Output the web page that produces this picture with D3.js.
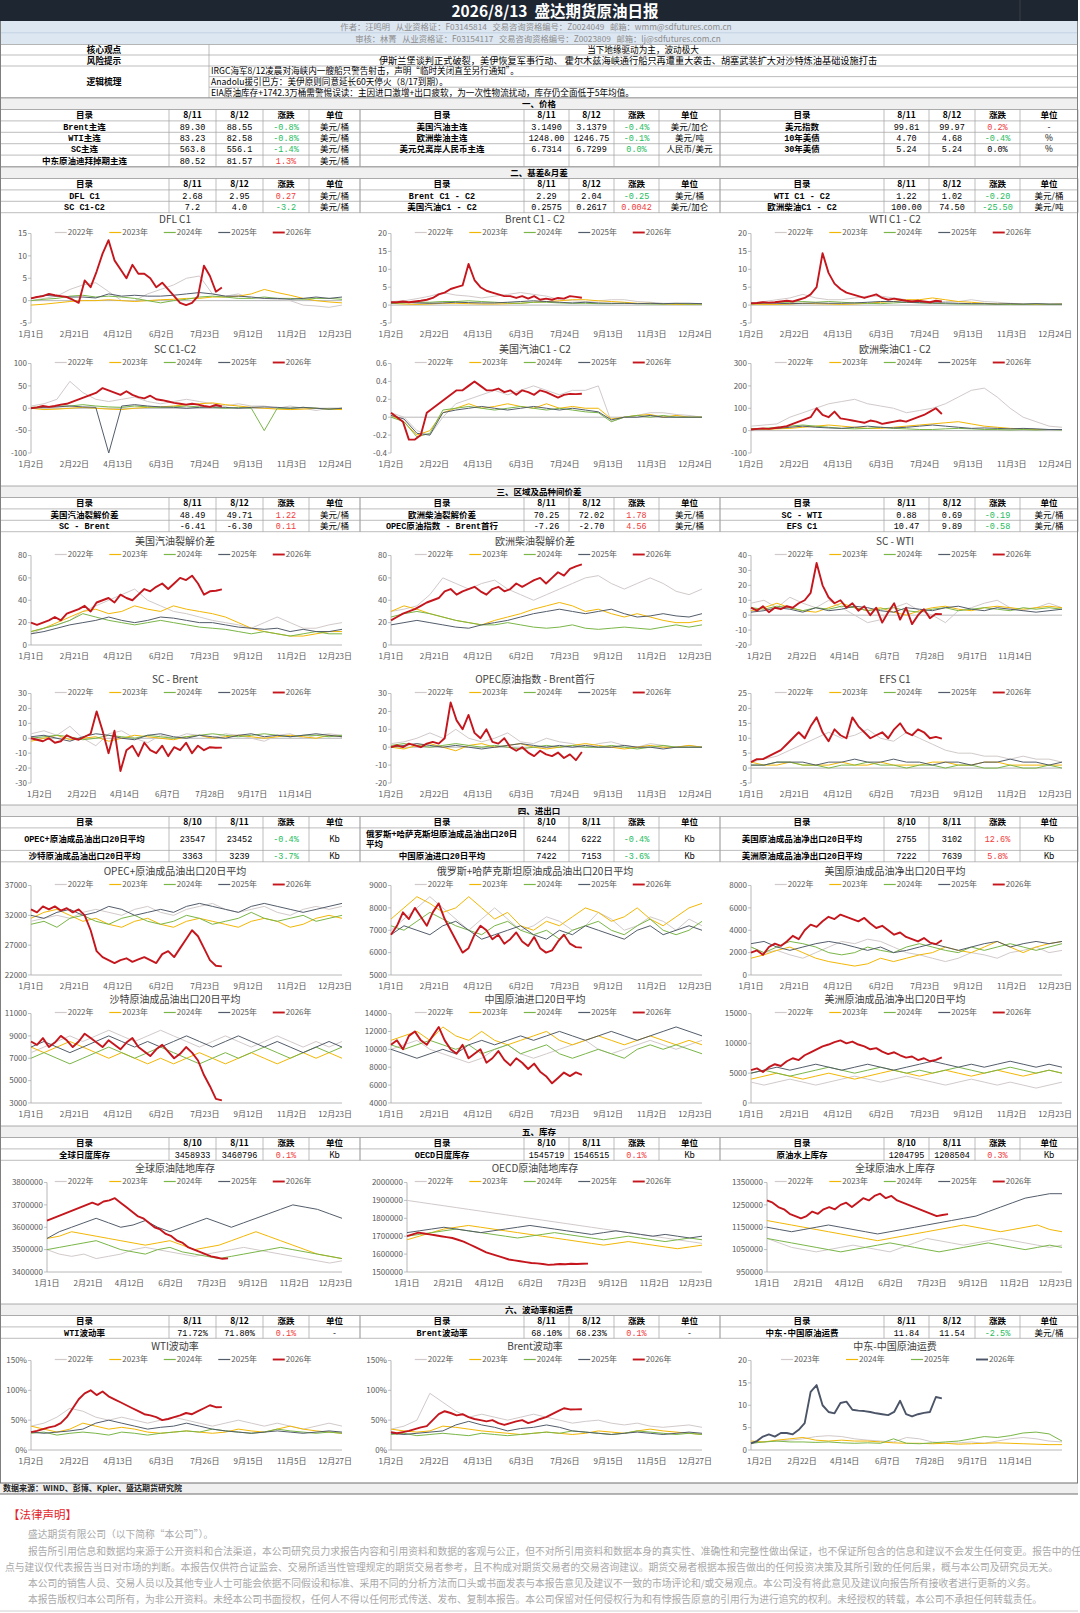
<!DOCTYPE html>
<html>
<head>
<meta charset="utf-8">
<script src="https://d3js.org/d3.v7.min.js"></script>
<style>
body { margin: 0; background: #fff; }
svg { display: block; }
</style>
</head>
<body>
<svg id="page" width="1080" height="1613"></svg>
<script>
// ---- legend names / axis labels ----
const years5 = ["2022年", "2023年", "2024年", "2025年", "2026年"];
const years4 = ["2023年", "2024年", "2025年", "2026年"];
const xDays1 = ["1月1日", "2月21日", "4月12日", "6月2日", "7月23日", "9月12日", "11月2日", "12月23日"];
const xDays2 = ["1月2日", "2月22日", "4月13日", "6月3日", "7月24日", "9月13日", "11月3日", "12月24日"];
const xTrade = ["1月2日", "2月22日", "4月14日", "6月7日", "7月28日", "9月17日", "11月14日"];
const xVol = ["1月2日", "2月22日", "4月13日", "6月3日", "7月26日", "9月15日", "11月5日", "12月27日"];

// ---- table rows: name, prev, last, change, unit ----
const priceL = [["Brent主连", "89.30", "88.55", "-0.8%", "美元/桶"], ["WTI主连", "83.23", "82.58", "-0.8%", "美元/桶"], ["SC主连", "563.8", "556.1", "-1.4%", "美元/桶"], ["中东原油迪拜掉期主连", "80.52", "81.57", "1.3%", "美元/桶"]];
const priceM = [["美国汽油主连", "3.1490", "3.1379", "-0.4%", "美元/加仑"], ["欧洲柴油主连", "1248.00", "1246.75", "-0.1%", "美元/吨"], ["美元兑离岸人民币主连", "6.7314", "6.7299", "0.0%", "人民币/美元"], ["", "", "", "", ""]];
const priceR = [["美元指数", "99.81", "99.97", "0.2%", "-"], ["10年美债", "4.70", "4.68", "-0.4%", "%"], ["30年美债", "5.24", "5.24", "0.0%", "%"], ["", "", "", "", ""]];
const spreadL = [["DFL C1", "2.68", "2.95", "0.27", "美元/桶"], ["SC C1-C2", "7.2", "4.0", "-3.2", "美元/桶"]];
const spreadM = [["Brent C1 - C2", "2.29", "2.04", "-0.25", "美元/桶"], ["美国汽油C1 - C2", "0.2575", "0.2617", "0.0042", "美元/加仑"]];
const spreadR = [["WTI C1 - C2", "1.22", "1.02", "-0.20", "美元/桶"], ["欧洲柴油C1 - C2", "100.00", "74.50", "-25.50", "美元/吨"]];
const crackL = [["美国汽油裂解价差", "48.49", "49.71", "1.22", "美元/桶"], ["SC - Brent", "-6.41", "-6.30", "0.11", "美元/桶"]];
const crackM = [["欧洲柴油裂解价差", "70.25", "72.02", "1.78", "美元/桶"], ["OPEC原油指数 - Brent首行", "-7.26", "-2.70", "4.56", "美元/桶"]];
const crackR = [["SC - WTI", "0.88", "0.69", "-0.19", "美元/桶"], ["EFS C1", "10.47", "9.89", "-0.58", "美元/桶"]];
const tradeL = [["OPEC+原油成品油出口20日平均", "23547", "23452", "-0.4%", "Kb"], ["沙特原油成品油出口20日平均", "3363", "3239", "-3.7%", "Kb"]];
const tradeM = [["俄罗斯+哈萨克斯坦原油成品油出口20日平均", "6244", "6222", "-0.4%", "Kb"], ["中国原油进口20日平均", "7422", "7153", "-3.6%", "Kb"]];
const tradeR = [["美国原油成品油净出口20日平均", "2755", "3102", "12.6%", "Kb"], ["美洲原油成品油净出口20日平均", "7222", "7639", "5.8%", "Kb"]];
const stockL = [["全球日度库存", "3458933", "3460796", "0.1%", "Kb"]];
const stockM = [["OECD日度库存", "1545719", "1546515", "0.1%", "Kb"]];
const stockR = [["原油水上库存", "1204795", "1208504", "0.3%", "Kb"]];
const volL = [["WTI波动率", "71.72%", "71.80%", "0.1%", "-"]];
const volM = [["Brent波动率", "68.10%", "68.23%", "0.1%", "-"]];
const volR = [["中东-中国原油运费", "11.84", "11.54", "-2.5%", "美元/桶"]];

// ---- chart series: older years every ~15 days over the year, 2026 weekly up to mid Aug ----
const dflC1 = [
  [0, 0.5, 1, 2.5, 3.5, 4, 2, 0, 0, 1.5, 2.5, 3.5, 5, 5.5, 1.5, 1, 1.5, 0.5, 0.5, 0.3, 0, -1, -1.2, -1.5, -1],
  [-1, -0.8, -0.5, -0.2, 0, 0, 0.2, 0, -0.2, 0, 0.2, 0.3, 0.5, 0.5, 0.8, 0.8, 1.0, 1.5, 2.5, 1.8, 1.2, 0.5, 0, -0.3, -0.5],
  [0, 0.3, 0.5, 1.0, 1.2, 0.8, 1.0, 0.8, 0.5, 0, -0.5, 0, 0.3, 0.8, 1.0, 0.8, 0.5, 0.5, 0.8, 0.5, 0.5, 0.3, 0.5, 0.5, 0.3],
  [0.5, 1.2, 1.0, 0.8, 0.8, 0.6, 1.5, 1.0, 1.2, 1.0, 1.0, 1.2, 1.5, 1.8, 1.5, 1.0, 1.0, 0.8, 0.5, 0.5, 0.3, 0.5, 0.8, 0.5, 0.8],
  [0.5, 0.8, 1.0, 1.5, 1.2, 1.0, 0.8, 0.2, -0.5, 4.5, 3.0, 6.5, 10.5, 13.5, 9.0, 7.0, 5.0, 8.0, 6.0, 6.0, 5.0, 3.0, 4.0, 2.5, 1.0, -0.5, -1.0, -0.5, 1.0, 7.8, 5.5, 2.0, 2.95]
];
const brentC1C2 = [
  [1, 1.2, 1.8, 2.5, 3.5, 2.8, 2.5, 2.0, 2.5, 3.0, 3.5, 3.0, 2.5, 1.5, 1.2, 1.0, 1.2, 1.5, 1.5, 1.0, 0.8, 0.5, 0.5, 0.3, 0.3],
  [0.5, 0.3, 0.2, 0.3, 0.5, 0.5, 0.4, 0.3, 0.3, 0.4, 0.5, 0.8, 1.0, 1.2, 1.5, 1.5, 1.2, 1.0, 0.8, 0.5, 0.5, 0.3, 0.2, 0.2, 0.3],
  [0.5, 0.6, 0.8, 0.8, 1.0, 1.0, 1.2, 1.0, 0.8, 0.6, 0.5, 0.8, 0.8, 0.6, 0.5, 0.5, 0.4, 0.4, 0.5, 0.4, 0.3, 0.3, 0.4, 0.3, 0.3],
  [0.6, 0.8, 0.6, 0.5, 0.6, 0.8, 0.7, 0.6, 0.6, 0.8, 1.0, 1.2, 1.0, 0.8, 0.6, 0.8, 0.6, 0.5, 0.5, 0.4, 0.5, 0.4, 0.5, 0.5, 0.4],
  [0.8, 0.8, 1.0, 0.8, 1.0, 1.2, 1.5, 2.0, 3.0, 3.5, 4.5, 5.0, 5.5, 11.5, 7.0, 5.0, 4.0, 3.5, 3.0, 2.5, 2.5, 2.0, 2.5, 1.8, 2.5, 1.5, 1.8, 1.5, 2.0, 1.8, 2.5, 2.29, 2.04]
];
const wtiC1C2 = [
  [0.5, 1.0, 1.5, 2.0, 3.0, 2.0, 1.5, 1.5, 2.0, 2.5, 2.5, 2.0, 1.5, 1.0, 0.8, 1.0, 1.0, 1.5, 1.0, 0.8, 0.5, 0.3, 0.3, 0.2, 0.2],
  [0.3, 0.2, 0.2, 0.3, 0.5, 0.4, 0.3, 0.2, 0.3, 0.5, 0.8, 1.0, 1.5, 1.5, 2.0, 1.5, 1.0, 0.8, 0.5, 0.3, 0.3, 0.2, 0.2, 0.2, 0.3],
  [0.3, 0.5, 0.8, 0.8, 1.0, 0.8, 1.0, 0.8, 0.6, 0.5, 0.4, 0.6, 0.8, 0.6, 0.5, 0.4, 0.3, 0.3, 0.3, 0.2, 0.2, 0.2, 0.3, 0.2, 0.2],
  [0.5, 0.6, 0.5, 0.4, 0.5, 0.6, 0.5, 0.5, 0.6, 0.8, 1.0, 1.0, 0.8, 0.7, 0.6, 0.6, 0.5, 0.4, 0.4, 0.3, 0.4, 0.3, 0.4, 0.3, 0.3],
  [0.5, 0.6, 0.8, 0.7, 0.8, 1.0, 1.2, 1.0, 1.5, 2.0, 3.0, 5.0, 14.5, 9.0, 6.0, 4.5, 3.5, 3.0, 2.5, 2.0, 2.5, 3.0, 2.0, 1.5, 1.8, 1.5, 1.2, 1.0, 1.2, 1.0, 0.8, 1.22, 1.02]
];
const scC1C2 = [
  [5, 10, 20, 60, 35, 20, 15, 20, 25, 15, 10, 15, 20, 15, 10, 5, 10, 5, 5, 0, 5, 0, -5, 0, 0],
  [0, -3, -2, 0, 2, 0, -2, -3, 0, 2, 3, 5, 8, 10, 12, 8, 5, 2, 0, -2, -3, -2, 0, -2, -3],
  [2, 3, 5, 5, 8, 5, 3, 2, 5, 3, 2, 3, 5, 3, 2, 0, 2, 0, -50, 0, 0, 2, 0, -2, 0],
  [0, 2, 3, 5, 3, 2, -100, 5, 8, 5, 3, 2, 0, 2, 3, 2, 0, 2, 3, 2, 0, 2, 0, -2, 0],
  [0, 2, 5, 3, 5, 8, 10, 15, 20, 25, 30, 35, 45, 40, 35, 30, 38, 30, 25, 22, 28, 20, 18, 15, 12, 10, 8, 10, 8, 5, 3, 7.2, 4.0]
];
const rbobC1C2 = [
  [0.05, 0.0, -0.15, -0.2, 0.0, 0.15, 0.2, 0.25, 0.3, 0.25, 0.3, 0.35, 0.3, 0.25, 0.3, 0.3, 0.35, -0.05, 0.0, 0.02, 0.05, 0.05, 0.03, 0.02, 0.0],
  [0.02, -0.05, -0.2, -0.15, 0.05, 0.1, 0.15, 0.1, 0.12, 0.15, 0.12, 0.1, 0.15, 0.1, 0.12, 0.1, 0.1, -0.02, 0.0, 0.02, 0.03, 0.0, 0.02, 0.0, 0.0],
  [0.0, -0.05, -0.22, -0.18, 0.08, 0.1, 0.12, 0.1, 0.08, 0.1, 0.12, 0.1, 0.08, 0.1, 0.08, 0.06, 0.05, -0.05, 0.0, 0.02, 0.0, 0.02, 0.0, 0.0, 0.0],
  [0.02, -0.02, -0.18, -0.2, 0.05, 0.08, 0.1, 0.12, 0.1, 0.08, 0.1, 0.12, 0.1, 0.08, 0.1, 0.08, 0.06, -0.03, 0.0, 0.0, 0.02, 0.0, 0.0, 0.0, 0.0],
  [0.05, 0.0, -0.05, -0.25, -0.25, -0.2, 0.05, 0.1, 0.15, 0.2, 0.25, 0.3, 0.3, 0.35, 0.4, 0.35, 0.3, 0.3, 0.32, 0.28, 0.3, 0.25, 0.3, 0.28, 0.25, 0.3, 0.28, 0.25, 0.22, 0.25, 0.26, 0.2575, 0.2617]
];
const gasoilC1C2 = [
  [20, 25, 30, 60, 80, 100, 120, 130, 140, 120, 110, 100, 80, 90, 100, 120, 150, 180, 190, 150, 100, 60, 40, 20, 15],
  [10, 5, 8, 10, 15, 20, 25, 20, 15, 10, 10, 15, 20, 25, 30, 35, 40, 30, 20, 15, 10, 8, 5, 5, 5],
  [8, 10, 15, 20, 25, 20, 15, 10, 8, 10, 15, 10, 8, 5, 5, 8, 10, 8, 5, 5, 3, 5, 3, 5, 3],
  [5, 8, 10, 15, 20, 15, 12, 10, 15, 20, 15, 12, 15, 20, 25, 20, 15, 10, 12, 10, 8, 10, 8, 5, 5],
  [5, 8, 10, 8, 12, 15, 20, 30, 40, 50, 60, 100, 70, 60, 85, 55, 50, 45, 40, 35, 45, 40, 30, 35, 40, 45, 40, 50, 60, 70, 85, 100, 74.5]
];
const rbobCrack = [
  [10, 15, 18, 22, 30, 35, 40, 45, 50, 40, 35, 30, 28, 25, 22, 20, 18, 15, 20, 25, 20, 15, 15, 18, 20],
  [12, 15, 20, 25, 30, 32, 28, 30, 35, 32, 30, 35, 32, 30, 28, 25, 20, 15, 12, 10, 8, 8, 10, 12, 12],
  [12, 15, 18, 22, 28, 25, 22, 20, 18, 20, 22, 20, 18, 16, 15, 14, 12, 10, 12, 10, 8, 10, 12, 10, 10],
  [10, 12, 15, 18, 20, 22, 25, 22, 20, 22, 25, 24, 22, 20, 20, 18, 16, 15, 14, 15, 12, 14, 12, 12, 14],
  [20, 18, 20, 22, 25, 22, 28, 30, 32, 35, 30, 38, 40, 42, 38, 45, 42, 40, 45, 50, 48, 52, 55, 50, 55, 60, 58, 62, 55, 45, 48, 48.49, 49.71]
];
const gasoilCrack = [
  [30, 32, 35, 45, 60, 55, 50, 55, 58, 50, 45, 40, 45, 50, 55, 60, 62, 55, 50, 55, 60, 55, 48, 45, 50],
  [30, 35, 32, 28, 25, 22, 20, 18, 22, 25, 28, 32, 35, 38, 35, 30, 32, 28, 25, 28, 25, 22, 20, 20, 22],
  [25, 28, 30, 28, 25, 22, 20, 18, 18, 20, 18, 16, 15, 16, 18, 15, 14, 15, 16, 15, 14, 16, 18, 16, 18],
  [18, 20, 22, 20, 18, 16, 15, 18, 20, 22, 25, 28, 30, 32, 30, 28, 30, 32, 28, 25, 26, 28, 26, 25, 28],
  [22, 25, 28, 30, 32, 35, 38, 40, 42, 48, 50, 45, 48, 50, 52, 48, 45, 50, 52, 48, 50, 55, 52, 55, 58, 60, 55, 60, 65, 62, 68, 70.25, 72.02]
];
const scWti = [
  [8, 10, 5, 12, 8, 5, 10, 5, 0, -5, -3, 5, 8, 3, 0, -5, 3, 5, 8, 10, 5, 3, 5, 8, 5],
  [3, 5, 8, 5, 3, 2, 5, 8, 5, 3, 5, 2, 0, 3, 5, 6, 4, 3, 5, 6, 5, 4, 5, 6, 5],
  [5, 4, 6, 5, 3, 5, 4, 6, 5, 3, 4, 5, 3, 2, 4, 5, 3, 4, 5, 4, 3, 5, 4, 5, 4],
  [2, 3, 5, 4, 2, 5, 3, 4, 6, 5, 3, 2, 5, 4, 3, 5, 6, 4, 3, 5, 4, 3, 2, 3, 4],
  [5, 3, 6, 2, 5, 4, 6, 5, 8, 10, 15, 35, 20, 12, 8, 10, 5, 8, 3, 6, 0, 5, -5, 2, 8, -3, 5, -6, 0, 4, -2, 0.88, 0.69]
];
const scBrent = [
  [3, 5, 2, 8, 0, -5, 3, 5, 0, -3, 2, 0, 3, 2, 0, 3, 2, 0, -2, 2, 3, 0, 2, 3, 2],
  [-2, 0, 2, -1, 0, 1, -2, 0, 2, 1, 0, -1, 1, 2, 0, 1, 2, 1, 0, 1, 2, 1, 0, 2, 1],
  [0, 1, 2, 1, -1, 0, 2, 1, 0, 2, 1, 0, 1, 2, 3, 2, 1, 2, 3, 2, 1, 2, 2, 1, 2],
  [1, 2, 0, -2, 1, 3, 2, 0, -1, 2, 3, 1, 0, 2, 1, 0, 2, 3, 1, 2, 1, 2, 3, 2, 1],
  [0, -1, -2, 0, -3, -2, 2, 0, -1, 1, 3, 18, 5, -10, 5, -22, -8, -5, -12, -3, -8, -10, -5, -12, -6, -8, -3, -10, -5, -8, -6, -6.41, -6.30]
];
const opecBrent = [
  [2, 3, 5, 8, 5, 10, 5, 3, 5, 8, 3, 2, 5, 3, 2, 0, 2, 3, 1, 0, 2, 1, 0, 1, 0],
  [0, -1, 1, 2, 0, -2, 1, 2, 0, 1, 2, 0, -1, 0, 1, 2, 1, 0, -1, 0, 1, 0, 0, 1, 0],
  [1, 2, 1, 0, 1, 2, 1, 0, 1, 0, -1, 0, 1, 0, 1, 0, 0, 1, 0, -1, 0, 1, 0, 0, 0],
  [0, 1, 2, 1, 0, 1, 0, -1, 0, 1, 2, 1, 0, 1, 0, 1, 0, 0, 1, 0, 0, -1, 0, 0, 0],
  [0, 1, 0, 2, 1, 0, 2, 3, 2, 5, 25, 15, 10, 18, 8, 5, 10, 3, 2, 5, 0, -2, 0, -3, -5, -2, -4, -5, -3, -6, -4, -7.26, -2.70]
];
const efsC1 = [
  [2, 3, 4, 6, 8, 10, 12, 10, 11, 13, 10, 9, 12, 10, 8, 6, 5, 5, 4, 4, 3, 4, 3, 3, 2],
  [2, 1, 1, 2, 1, 1, 1, 2, 1, 1, 2, 1, 1, 1, 2, 2, 1, 1, 2, 2, 1, 1, 1, 1, 1],
  [1, 1, 2, 2, 1, 1, 0, 1, 1, 2, 1, 1, 0, 1, 1, 0, 1, 1, 0, 0, 1, 0, 0, 1, 0],
  [1, 1, 2, 2, 2, 1, 2, 2, 3, 2, 2, 3, 2, 2, 1, 2, 2, 1, 2, 2, 3, 2, 2, 1, 2],
  [2, 3, 3, 4, 5, 6, 8, 10, 12, 10, 14, 17, 12, 9, 13, 11, 10, 17, 14, 12, 10, 11, 12, 10, 13, 15, 12, 11, 13, 12, 10, 10.47, 9.89]
];
const opecExp = [
  [31000, 31500, 32000, 31500, 32500, 33000, 32500, 32000, 33000, 33500, 32500, 32000, 33000, 33500, 34000, 33000, 32500, 33000, 33500, 32500, 32000, 33000, 33500, 33000, 33500],
  [31500, 32500, 33000, 32000, 31000, 31500, 30500, 30000, 31000, 31500, 30500, 30000, 31000, 31500, 31000, 30500, 30000, 31000, 31500, 31000, 30000, 30500, 31500, 32000, 31500],
  [30500, 31000, 30000, 31500, 32000, 31000, 30500, 31500, 32000, 31000, 30500, 31000, 32000, 31500, 30500, 31000, 31500, 32500, 31500, 31000, 31500, 32000, 31000, 31500, 32000],
  [32000, 31500, 32500, 33000, 32000, 32500, 33500, 33000, 32000, 32500, 33000, 32500, 33500, 34000, 33500, 33000, 32500, 33500, 34000, 33500, 33000, 32500, 33000, 33500, 34000],
  [33000, 32500, 33500, 33000, 33500, 32800, 33200, 32500, 33000, 32000, 29500, 26000, 25000, 24500, 24000, 24500, 24800, 24200, 24600, 25000, 24500, 24000, 25500, 26000, 25000, 26500, 28000, 29500, 28500, 26500, 24500, 23547, 23452]
];
const rusExp = [
  [7000, 7500, 8000, 8500, 8000, 7500, 7000, 7500, 8000, 7500, 7000, 7200, 7600, 7400, 7000, 7200, 7800, 7500, 7000, 7200, 7600, 7400, 7000, 7500, 7200],
  [7500, 8000, 8500, 8200, 7800, 8000, 8500, 8000, 7500, 7800, 7200, 7000, 7400, 7200, 7600, 8000, 7800, 7400, 7600, 8000, 7500, 7200, 7600, 8000, 8200],
  [7200, 7000, 7400, 7800, 7500, 7200, 7000, 6800, 7200, 7400, 7000, 6800, 7000, 6600, 7000, 7200, 7400, 7000, 6800, 7200, 7500, 7000, 6800, 7000, 7400],
  [6800, 7200, 7000, 6800, 7200, 7400, 7000, 6600, 6800, 7000, 7200, 6800, 6600, 7000, 6800, 7200, 7000, 6800, 6600, 7000, 7200, 6800, 7000, 7200, 7000],
  [6800, 7200, 7800, 7500, 8000, 7600, 7200, 7800, 8200, 7500, 7000, 6500, 6000, 6200, 6800, 7200, 7000, 6600, 6800, 6400, 6600, 6900, 6500, 6300, 6700, 6200, 6000, 6100, 6500, 6800, 6400, 6244, 6222]
];
const usNetExp = [
  [2500, 2000, 2200, 1800, 1500, 2000, 2500, 3000, 2800, 3200, 3000, 2500, 2000, 1800, 1500, 1200, 1500, 2000, 1800, 1500, 2000, 2200, 2500, 2000, 2200],
  [1500, 1800, 2200, 2500, 2000, 1500, 1200, 1000, 800, 1000, 1500, 1200, 1500, 1800, 2000, 2500, 2200, 2000, 2500, 3000, 2500, 2000, 2500, 2800, 3000],
  [2500, 2000, 2500, 3000, 2800, 2500, 2000, 1800, 2000, 2500, 2200, 2000, 2500, 2800, 2500, 2200, 2000, 2500, 2200, 2500, 2800, 2500, 2200, 2500, 2800],
  [2800, 3000, 2500, 2200, 2500, 2800, 3000, 2800, 2500, 2200, 2500, 2000, 2200, 2500, 2800, 2500, 2200, 2500, 2800, 3000, 2500, 2800, 3000, 2800, 3000],
  [2000, 2200, 1800, 2500, 2800, 2600, 3000, 3500, 3200, 4000, 4500, 4300, 4800, 5200, 5000, 5400, 5200, 5000, 4800, 5100, 4600, 4200, 4400, 4000, 3600, 3800, 3400, 3200, 3000, 3300, 2900, 2755, 3102]
];
const saudiExp = [
  [7500, 8000, 8500, 9000, 8500, 9000, 9500, 9000, 8500, 9000, 9500, 9000, 8500, 8000, 8500, 9000, 8500, 8000, 8500, 9000, 8500, 8000, 8500, 8000, 8500],
  [8000, 7500, 8000, 8500, 8000, 7500, 7000, 7500, 7000, 6500, 7000, 6500, 7000, 7500, 7000, 6500, 7000, 7500, 7000, 6500, 7000, 7500, 7000, 7500, 7000],
  [7000, 7500, 7000, 6500, 7000, 7500, 8000, 7500, 7000, 7500, 8000, 7500, 7000, 6500, 7000, 7500, 7000, 7500, 8000, 7500, 7000, 7500, 8000, 7500, 8000],
  [8000, 8500, 8000, 7500, 8000, 8500, 9000, 8500, 8000, 8500, 8000, 8500, 9000, 8500, 8000, 8500, 9000, 8500, 8000, 8500, 8000, 7500, 8000, 8500, 8000],
  [8500, 8200, 8800, 8000, 8400, 9000, 8600, 8000, 8500, 9200, 8800, 8400, 8000, 8600, 8200, 7800, 8400, 8800, 8000, 7600, 7200, 7800, 8200, 7600, 7000, 7400, 8000, 7500, 6800, 5500, 4500, 3363, 3239]
];
const chinaImp = [
  [10000, 10500, 11000, 10000, 9500, 9000, 8500, 9000, 10000, 10500, 9500, 9000, 9500, 10000, 10500, 11000, 10000, 9500, 10000, 10500, 11000, 10500, 10000, 10500, 11000],
  [11000, 11500, 12000, 11000, 12500, 11500, 11000, 12000, 11000, 10500, 11000, 11500, 12000, 11000, 10500, 11000, 11500, 11000, 10500, 11000, 11500, 11000, 10500, 11000, 10500],
  [10500, 10000, 10500, 11000, 10500, 10000, 10500, 9500, 10000, 10500, 9500, 10000, 10500, 9500, 9000, 9500, 10000, 9500, 9000, 10000, 10500, 10000, 10500, 10000, 9500],
  [10000, 9500, 9000, 9500, 10000, 9500, 10500, 11000, 10500, 11000, 11500, 11000, 11500, 12000, 11500, 11000, 11500, 12000, 11500, 11000, 11500, 12000, 12500, 12000, 11500],
  [10500, 11000, 10000, 11500, 12000, 11000, 10500, 11500, 12500, 11000, 10000, 9500, 10500, 9000, 9500, 10000, 8500, 9000, 9800, 8800, 8200, 9000, 8500, 7800, 8400, 7500, 7000, 6200, 6800, 7400, 7000, 7422, 7153]
];
const amerNetExp = [
  [3500, 3000, 3500, 4000, 3500, 3000, 3500, 4000, 4500, 4000, 3500, 4000, 4500, 4000, 3500, 3000, 3500, 4000, 3500, 3000, 3500, 3000, 2500, 3000, 3500],
  [4000, 4500, 5000, 4500, 4000, 4500, 5000, 4500, 4000, 4500, 5000, 5500, 5000, 4500, 5000, 5500, 5000, 4500, 5000, 5500, 5000, 4500, 5000, 5500, 5000],
  [5000, 5500, 5000, 4500, 5000, 5500, 6000, 5500, 5000, 5500, 6000, 5500, 5000, 5500, 5000, 5500, 6000, 5500, 5000, 5500, 6000, 5500, 5000, 5500, 5000],
  [5000, 5500, 6000, 5500, 6000, 6500, 6000, 5500, 6000, 6500, 6000, 5500, 6000, 6500, 7000, 6500, 6000, 6500, 6000, 6500, 7000, 6500, 6000, 6500, 6000],
  [5500, 5800, 5200, 6000, 6500, 6200, 7000, 7500, 7200, 8000, 8500, 9000, 9500, 9800, 10200, 10500, 10000, 10300, 9800, 9500, 9000, 9200, 8600, 8200, 8500, 8000, 7600, 7800, 7200, 7500, 7000, 7222, 7639]
];
const globalOnshore = [
  [3500000, 3480000, 3470000, 3480000, 3460000, 3470000, 3480000, 3500000, 3510000, 3500000, 3490000, 3480000, 3470000, 3480000, 3490000, 3500000, 3510000, 3500000, 3490000, 3480000, 3470000, 3460000, 3450000, 3440000, 3450000],
  [3550000, 3560000, 3580000, 3570000, 3560000, 3550000, 3540000, 3530000, 3520000, 3530000, 3540000, 3520000, 3500000, 3510000, 3520000, 3540000, 3560000, 3580000, 3560000, 3540000, 3520000, 3500000, 3480000, 3470000, 3460000],
  [3500000, 3510000, 3520000, 3530000, 3540000, 3520000, 3500000, 3490000, 3480000, 3500000, 3510000, 3490000, 3480000, 3470000, 3460000, 3470000, 3480000, 3490000, 3500000, 3510000, 3500000, 3490000, 3480000, 3470000, 3460000],
  [3550000, 3580000, 3600000, 3620000, 3640000, 3620000, 3600000, 3610000, 3630000, 3600000, 3580000, 3600000, 3620000, 3640000, 3620000, 3600000, 3620000, 3640000, 3660000, 3680000, 3700000, 3690000, 3680000, 3660000, 3640000],
  [3630000, 3640000, 3650000, 3660000, 3670000, 3680000, 3690000, 3700000, 3710000, 3700000, 3715000, 3720000, 3730000, 3710000, 3690000, 3670000, 3650000, 3640000, 3620000, 3600000, 3590000, 3570000, 3560000, 3540000, 3530000, 3510000, 3500000, 3490000, 3480000, 3470000, 3465000, 3458933, 3460796]
];
const oecdOnshore = [
  [1900000, 1890000, 1880000, 1870000, 1860000, 1850000, 1840000, 1830000, 1820000, 1810000, 1800000, 1790000, 1780000, 1770000, 1760000, 1750000, 1740000, 1730000, 1720000, 1710000, 1700000, 1690000, 1680000, 1670000, 1660000],
  [1680000, 1700000, 1720000, 1740000, 1750000, 1760000, 1750000, 1740000, 1730000, 1720000, 1710000, 1700000, 1690000, 1680000, 1670000, 1660000, 1650000, 1660000, 1670000, 1660000, 1650000, 1640000, 1630000, 1640000, 1650000],
  [1700000, 1710000, 1720000, 1730000, 1740000, 1730000, 1720000, 1710000, 1700000, 1690000, 1700000, 1710000, 1720000, 1710000, 1700000, 1690000, 1680000, 1690000, 1700000, 1690000, 1680000, 1670000, 1680000, 1690000, 1680000],
  [1720000, 1730000, 1740000, 1750000, 1740000, 1730000, 1720000, 1730000, 1740000, 1750000, 1760000, 1750000, 1740000, 1730000, 1720000, 1710000, 1720000, 1730000, 1720000, 1710000, 1700000, 1710000, 1700000, 1690000, 1700000],
  [1700000, 1710000, 1720000, 1715000, 1710000, 1705000, 1700000, 1695000, 1690000, 1680000, 1670000, 1655000, 1640000, 1625000, 1610000, 1600000, 1590000, 1580000, 1570000, 1565000, 1560000, 1555000, 1550000, 1548000, 1545000, 1540000, 1542000, 1545000, 1543000, 1546000, 1545000, 1545719, 1546515]
];
const floating = [
  [1100000, 1080000, 1060000, 1050000, 1040000, 1050000, 1060000, 1070000, 1060000, 1050000, 1040000, 1060000, 1080000, 1100000, 1090000, 1080000, 1070000, 1080000, 1090000, 1100000, 1090000, 1080000, 1070000, 1060000, 1070000],
  [1180000, 1170000, 1160000, 1150000, 1140000, 1130000, 1120000, 1110000, 1100000, 1090000, 1100000, 1110000, 1120000, 1130000, 1140000, 1150000, 1160000, 1150000, 1140000, 1130000, 1140000, 1150000, 1160000, 1140000, 1130000],
  [1100000, 1090000, 1080000, 1070000, 1060000, 1050000, 1040000, 1050000, 1060000, 1070000, 1080000, 1070000, 1060000, 1050000, 1040000, 1050000, 1060000, 1070000, 1080000, 1070000, 1060000, 1050000, 1060000, 1070000, 1060000],
  [1150000, 1140000, 1130000, 1140000, 1150000, 1160000, 1150000, 1140000, 1130000, 1120000, 1130000, 1140000, 1150000, 1160000, 1170000, 1180000, 1190000, 1200000, 1220000, 1240000, 1260000, 1280000, 1290000, 1300000, 1300000],
  [1270000, 1260000, 1240000, 1230000, 1210000, 1200000, 1190000, 1200000, 1220000, 1210000, 1230000, 1240000, 1230000, 1250000, 1260000, 1240000, 1260000, 1280000, 1270000, 1290000, 1300000, 1280000, 1290000, 1270000, 1260000, 1250000, 1240000, 1230000, 1220000, 1210000, 1200000, 1204795, 1208504]
];
const wtiVol = [
  [40, 45, 55, 70, 65, 55, 50, 55, 50, 45, 50, 55, 50, 45, 40, 45, 50, 45, 40, 45, 40, 35, 40, 45, 40],
  [40, 35, 30, 35, 45, 40, 35, 38, 35, 30, 28, 30, 32, 30, 28, 30, 35, 32, 30, 35, 40, 35, 32, 30, 28],
  [28, 30, 25, 28, 30, 28, 25, 30, 28, 25, 28, 30, 32, 30, 35, 32, 30, 28, 30, 35, 32, 30, 28, 30, 28],
  [30, 28, 30, 32, 35, 45, 50, 45, 40, 35, 38, 40, 45, 40, 35, 32, 30, 28, 30, 32, 30, 28, 30, 32, 30],
  [30, 32, 35, 38, 40, 45, 55, 70, 85, 95, 100, 92, 98, 90, 85, 80, 75, 70, 65, 60, 58, 55, 50, 52, 55, 58, 62, 60, 65, 70, 75, 71.72, 71.8]
];
const brentVol = [
  [35, 40, 50, 95, 80, 65, 55, 60, 55, 50, 55, 60, 55, 50, 45, 48, 50, 45, 42, 45, 40, 38, 40, 42, 38],
  [35, 32, 30, 32, 40, 38, 35, 32, 30, 28, 26, 28, 30, 28, 26, 28, 32, 30, 28, 32, 35, 32, 30, 28, 26],
  [26, 28, 24, 26, 28, 26, 24, 28, 26, 24, 26, 28, 30, 28, 32, 30, 28, 26, 28, 32, 30, 28, 26, 28, 26],
  [28, 26, 28, 30, 32, 42, 48, 42, 38, 32, 36, 38, 42, 38, 32, 30, 28, 26, 28, 30, 28, 26, 28, 30, 28],
  [30, 28, 30, 32, 35, 38, 40, 50, 60, 65, 62, 58, 60, 55, 52, 50, 48, 50, 45, 42, 45, 48, 50, 45, 48, 52, 55, 60, 65, 70, 68, 68.1, 68.23]
];
const megChina = [
  [1.5, 1.8, 2.0, 2.2, 2.5, 3.0, 3.2, 3.0, 2.5, 2.2, 2.0, 1.8, 2.8, 2.5, 1.8, 1.5, 1.6, 1.8, 1.5, 2.0, 2.5, 2.8, 2.5, 2.0, 1.8],
  [2.0, 1.8, 2.2, 2.5, 2.8, 2.2, 2.0, 2.2, 2.0, 2.0, 1.8, 1.6, 1.5, 1.5, 1.4, 1.5, 1.3, 1.4, 1.5, 1.6, 1.5, 1.4, 1.3, 1.2, 1.2],
  [1.5, 1.8, 2.0, 1.8, 1.8, 1.7, 1.8, 1.6, 1.5, 1.6, 1.5, 2.5, 1.5, 1.4, 1.6, 1.8, 2.0, 2.5, 3.0, 2.8, 3.2, 3.8, 4.0, 3.6, 2.0],
  [1.5, 2.0, 3.0, 3.5, 3.0, 3.8, 3.8, 3.5, 4.5, 6.0, 13.0, 14.5, 10.0, 8.5, 8.2, 10.5, 10.8, 9.0, 8.8, 8.7, 8.5, 8.2, 8.0, 7.8, 8.5, 11.0, 8.0, 7.5, 8.0, 8.3, 8.5, 11.84, 11.54]
];

const colors5 = ["#d2caca", "#f2b705", "#7ab648", "#535d6a", "#c4161c"];
const colors4 = ["#d2caca", "#f2b705", "#7ab648", "#4b5567"];

const svg = d3.select("#page");
const W = 1078;
const FONT = '"Noto Sans CJK SC", "Noto Sans", sans-serif';
const MONO = '"Liberation Mono", "DejaVu Sans Mono", "Noto Sans CJK SC", monospace';
const GRID = "#a0a0a0";

function txt(x, y, s, o) {
  o = o || {};
  return svg.append("text")
    .attr("x", x).attr("y", y).attr("dy", "0.35em")
    .attr("text-anchor", o.anchor || "middle")
    .style("font-family", o.family || FONT)
    .style("font-size", (o.size || 8.5) + "px")
    .style("font-weight", o.bold ? 700 : 400)
    .style("white-space", "pre")
    .attr("fill", o.color || "#000")
    .text(s);
}
function hline(x1, x2, y, c, w) {
  svg.append("line").attr("x1", x1).attr("x2", x2).attr("y1", y).attr("y2", y)
    .attr("stroke", c || GRID).attr("stroke-width", w || 0.7);
}
function vline(x, y1, y2, c, w) {
  svg.append("line").attr("x1", x).attr("x2", x).attr("y1", y1).attr("y2", y2)
    .attr("stroke", c || GRID).attr("stroke-width", w || 0.7);
}

// ---- header ----
svg.append("rect").attr("x", 0).attr("y", 0).attr("width", W).attr("height", 21).attr("fill", "#1e2632");
txt(555, 11.5, "2026/8/13  盛达期货原油日报", { size: 15.5, bold: true, color: "#fff" });
vline(1020, 0, 21, "#4a4a4a");
svg.append("rect").attr("x", 0).attr("y", 21).attr("width", W).attr("height", 23.5).attr("fill", "#dde7f2");
hline(0, W, 32.8, "#b8c8dc"); hline(0, W, 44.5, "#9a9a9a");
txt(536, 26.9, "作者：汪鸣明   从业资格证：F03145814   交易咨询资格编号：Z0024049   邮箱：wmm@sdfutures.com.cn", { size: 8.3, color: "#8c8c8c" });
txt(538, 38.6, "审核：林菁   从业资格证：F03154117   交易咨询资格编号：Z0023809   邮箱：lj@sdfutures.com.cn", { size: 8.3, color: "#8c8c8c" });

// ---- summary block ----
const sumY = [44.5, 55, 66, 76.6, 87.2, 97.8];
hline(0, W, sumY[1]); hline(0, W, sumY[2]); hline(209, W, sumY[3]); hline(209, W, sumY[4]); hline(0, W, sumY[5], "#8a8a8a");
vline(209, sumY[0], sumY[5]);
txt(104, 49.6, "核心观点", { bold: true, size: 8.6 });
txt(104, 60.9, "风险提示", { bold: true, size: 8.6 });
txt(104, (sumY[2] + sumY[5]) / 2, "逻辑梳理", { bold: true, size: 8.8 });
txt(643, 49.6, "当下地缘驱动为主，波动极大", { size: 8.6 });
txt(628, 60.9, "伊斯兰堡谈判正式破裂，美伊恢复军事行动、 霍尔木兹海峡通行船只再遭重大袭击、胡塞武装扩大对沙特炼油基础设施打击", { size: 9.2 });
const logicLines = [
  "IRGC海军8/12凌晨对海峡内一艘船只警告射击，声明“临时关闭直至另行通知”。",
  "Anadolu援引巴方：美伊原则同意延长60天停火（8/17到期）。",
  "EIA原油库存+1742.3万桶需警惕误读：主因进口激增+出口疲软，为一次性物流扰动，库存仍全面低于5年均值。"
];
logicLines.forEach((s, i) => txt(211, (sumY[2 + i] + sumY[3 + i]) / 2, s, { anchor: "start", size: 8.6 }));

// ---- tables ----
const colsL = [0, 169, 216, 263, 309, 360];
const colsM = [360, 524, 569, 614, 659, 720];
const colsR = [720, 884, 929, 975, 1020, W];
const groups = [colsL, colsM, colsR];

function chgColor(r) {
  const a = parseFloat(r[1]), b = parseFloat(r[2]);
  if (isNaN(a) || isNaN(b)) return "#000";
  return b > a ? "#f23a3a" : (b < a ? "#1dbb5c" : "#000");
}

function section(y, title, hdr, sets, hs) {
  svg.append("rect").attr("x", 0).attr("y", y).attr("width", W).attr("height", 11.5).attr("fill", "#f0f0f0");
  hline(0, W, y, "#8a8a8a"); hline(0, W, y + 11.5, "#8a8a8a");
  txt(539, y + 5.9, title, { size: 8.5, bold: true });
  let yy = y + 11.5;
  const heights = [11.4].concat(hs);
  heights.forEach((h, j) => {
    groups.forEach((cols, g) => {
      const row = j === 0 ? hdr : sets[g][j - 1];
      for (let c = 0; c < 5; c++) {
        const cx = (cols[c] + cols[c + 1]) / 2;
        const cw = cols[c + 1] - cols[c];
        const s = row[c];
        if (!s) continue;
        const opt = { size: 8.5 };
        if (j === 0) { opt.bold = true; }
        else if (c === 0) { opt.bold = true; opt.family = MONO; }
        else if (c === 4) { opt.family = FONT; }
        else { opt.family = MONO; }
        if (j > 0 && c === 3) opt.color = chgColor(row);
        const t = txt(cx, yy + h / 2, s, opt);
        // wrap long names onto two lines
        if (t.node().getComputedTextLength() > cw - 6) {
          let k = s.length;
          t.text(s.slice(0, k));
          while (k > 1 && t.node().getComputedTextLength() > cw - 8) { k--; t.text(s.slice(0, k)); }
          t.remove();
          const x0 = cols[c] + 6;
          txt(x0, yy + h / 2 - 5, s.slice(0, k), Object.assign({}, opt, { anchor: "start" }));
          txt(x0, yy + h / 2 + 5, s.slice(k), Object.assign({}, opt, { anchor: "start" }));
        }
      }
      cols.forEach(cx => vline(cx, yy, yy + h));
    });
    yy += h;
    hline(0, W, yy);
  });
}

const hdrA = ["目录", "8/11", "8/12", "涨跌", "单位"];
const hdrB = ["目录", "8/10", "8/11", "涨跌", "单位"];
section(98, "一、价格", hdrA, [priceL, priceM, priceR], [11.4, 11.4, 11.4, 11.4]);
section(167, "二、基差&月差", hdrA, [spreadL, spreadM, spreadR], [11.4, 11.4]);
section(486, "三、区域及品种间价差", hdrA, [crackL, crackM, crackR], [11.4, 11.4]);
section(805, "四、进出口", hdrB, [tradeL, tradeM, tradeR], [22.5, 11.4]);
section(1126, "五、库存", hdrB, [stockL, stockM, stockR], [11.4]);
section(1304, "六、波动率和运费", hdrA, [volL, volM, volR], [11.4]);

// ---- seasonal charts ----
function drawChart(cfg) {
  const px = [0, 360, 720][cfg.c];
  const left = cfg.left || 31;
  const T = cfg.T;
  const names = cfg.names || years5;
  const colors = names.length === 5 ? colors5 : colors4;
  const xs = cfg.xs || [0, 51];
  const x = d3.scaleLinear().domain([0, 365]).range([px + left, px + 342]);
  const y = d3.scaleLinear().domain([cfg.y[0], cfg.y[1]]).range([T + 104, T + 14.5]);
  const g = svg.append("g");

  g.append("text").attr("x", px + 175).attr("y", T).attr("dy", "0.35em")
    .attr("text-anchor", "middle").style("font-family", FONT).style("font-size", "10px")
    .attr("fill", "#404040").text(cfg.t);

  // y ticks
  const n = Math.round((cfg.y[1] - cfg.y[0]) / cfg.y[2]);
  const fmt = v => {
    if (cfg.pct) return v + "%";
    if (cfg.y[2] < 1) return Math.abs(v) < 1e-9 ? "0" : v.toFixed(1);
    return String(v);
  };
  d3.range(n + 1).forEach(i => {
    const v = +(cfg.y[0] + i * cfg.y[2]).toFixed(6);
    g.append("text").attr("x", x(0) - 4).attr("y", y(v)).attr("dy", "0.35em")
      .attr("text-anchor", "end").style("font-family", FONT).style("font-size", "8px")
      .attr("fill", "#595959").text(fmt(v));
    g.append("line").attr("x1", x(0) - 3).attr("x2", x(0)).attr("y1", y(v)).attr("y2", y(v))
      .attr("stroke", "#a6a6a6").attr("stroke-width", 0.7);
  });
  const base = (cfg.y[0] < 0 && cfg.y[1] > 0) ? y(0) : y(cfg.y[0]);
  g.append("line").attr("x1", x(0)).attr("x2", x(0)).attr("y1", y(cfg.y[1])).attr("y2", y(cfg.y[0]))
    .attr("stroke", "#a6a6a6").attr("stroke-width", 0.8);
  g.append("line").attr("x1", x(0)).attr("x2", x(365)).attr("y1", base).attr("y2", base)
    .attr("stroke", "#a6a6a6").attr("stroke-width", 0.8);

  cfg.xl.forEach((s, i) => {
    g.append("text").attr("x", x(xs[0] + i * xs[1])).attr("y", T + 115).attr("dy", "0.35em")
      .attr("text-anchor", "middle").style("font-family", FONT).style("font-size", "8px")
      .attr("fill", "#595959").text(s);
  });

  const line = d3.line().x(d => x(d[0])).y(d => y(d[1]));
  cfg.s.forEach((arr, k) => {
    const last = k === cfg.s.length - 1;
    const pts = arr.map((v, i) => [last ? i * 7 : i * 365 / (arr.length - 1), v]);
    g.append("path").datum(pts).attr("d", line)
      .attr("fill", "none").attr("stroke", colors[k])
      .attr("stroke-width", last ? 1.9 : 1)
      .attr("stroke-linejoin", "round");
  });

  // legend
  const w = names.length === 5 ? 54.5 : 65;
  const lx = px + 191 - names.length * w / 2;
  names.forEach((s, i) => {
    const sx = lx + i * w;
    g.append("line").attr("x1", sx).attr("x2", sx + 12).attr("y1", T + 13.5).attr("y2", T + 13.5)
      .attr("stroke", colors[i]).attr("stroke-width", i === names.length - 1 ? 1.9 : 1.2);
    g.append("text").attr("x", sx + 13).attr("y", T + 13.5).attr("dy", "0.35em")
      .style("font-family", FONT).style("font-size", "8px").attr("fill", "#595959").text(s);
  });
}

const charts = [
  { t: "DFL C1", s: dflC1, c: 0, T: 219, y: [-5, 15, 5], xl: xDays1 },
  { t: "Brent C1 - C2", s: brentC1C2, c: 1, T: 219, y: [-5, 20, 5], xl: xDays2 },
  { t: "WTI C1 - C2", s: wtiC1C2, c: 2, T: 219, y: [-5, 20, 5], xl: xDays2 },
  { t: "SC C1-C2", s: scC1C2, c: 0, T: 349, y: [-100, 100, 50], xl: xDays2 },
  { t: "美国汽油C1 - C2", s: rbobC1C2, c: 1, T: 349, y: [-0.4, 0.6, 0.2], xl: xDays2 },
  { t: "欧洲柴油C1 - C2", s: gasoilC1C2, c: 2, T: 349, y: [-100, 300, 100], xl: xDays2 },
  { t: "美国汽油裂解价差", s: rbobCrack, c: 0, T: 541, y: [0, 80, 20], xl: xDays1 },
  { t: "欧洲柴油裂解价差", s: gasoilCrack, c: 1, T: 541, y: [0, 80, 20], xl: xDays1 },
  { t: "SC - WTI", s: scWti, c: 2, T: 541, y: [-20, 40, 10], xl: xTrade, xs: [10, 50] },
  { t: "SC - Brent", s: scBrent, c: 0, T: 679, y: [-30, 30, 10], xl: xTrade, xs: [10, 50] },
  { t: "OPEC原油指数 - Brent首行", s: opecBrent, c: 1, T: 679, y: [-20, 30, 10], xl: xDays2 },
  { t: "EFS C1", s: efsC1, c: 2, T: 679, y: [-5, 25, 5], xl: xDays1 },
  { t: "OPEC+原油成品油出口20日平均", s: opecExp, c: 0, T: 871, y: [22000, 37000, 5000], xl: xDays1 },
  { t: "俄罗斯+哈萨克斯坦原油成品油出口20日平均", s: rusExp, c: 1, T: 871, y: [5000, 9000, 1000], xl: xDays1 },
  { t: "美国原油成品油净出口20日平均", s: usNetExp, c: 2, T: 871, y: [0, 8000, 2000], xl: xDays1 },
  { t: "沙特原油成品油出口20日平均", s: saudiExp, c: 0, T: 999, y: [3000, 11000, 2000], xl: xDays1 },
  { t: "中国原油进口20日平均", s: chinaImp, c: 1, T: 999, y: [4000, 14000, 2000], xl: xDays1 },
  { t: "美洲原油成品油净出口20日平均", s: amerNetExp, c: 2, T: 999, y: [0, 15000, 5000], xl: xDays1 },
  { t: "全球原油陆地库存", s: globalOnshore, c: 0, T: 1168, y: [3400000, 3800000, 100000], xl: xDays1, left: 47 },
  { t: "OECD原油陆地库存", s: oecdOnshore, c: 1, T: 1168, y: [1500000, 2000000, 100000], xl: xDays1, left: 47 },
  { t: "全球原油水上库存", s: floating, c: 2, T: 1168, y: [950000, 1350000, 100000], xl: xDays1, left: 47 },
  { t: "WTI波动率", s: wtiVol, c: 0, T: 1346, y: [0, 150, 50], xl: xVol, pct: true },
  { t: "Brent波动率", s: brentVol, c: 1, T: 1346, y: [0, 150, 50], xl: xVol, pct: true },
  { t: "中东-中国原油运费", s: megChina, c: 2, T: 1346, y: [0, 20, 5], xl: xTrade, xs: [10, 50], names: years4 }
];
charts.forEach(drawChart);

// ---- sheet frame, source row ----
vline(0.5, 21, 1494, "#7f7f7f", 1);
vline(W - 0.5, 21, 1494, "#7f7f7f", 1);
svg.append("rect").attr("x", 0).attr("y", 1483).attr("width", W).attr("height", 11).attr("fill", "#f0f0f0");
hline(0, W, 1483, "#6f6f6f", 1); hline(0, W, 1494, "#6f6f6f", 1);
txt(3, 1488.5, "数据来源：WIND、彭博、Kpler、盛达期货研究院", { anchor: "start", size: 8, bold: true, color: "#222" });

// ---- legal notice ----
txt(8, 1515, "【法律声明】", { anchor: "start", size: 11.5, color: "#e3242b" });
const legal = [
  [28, "盛达期货有限公司（以下简称“本公司”）。"],
  [28, "报告所引用信息和数据均来源于公开资料和合法渠道，本公司研究员力求报告内容和引用资料和数据的客观与公正，但不对所引用资料和数据本身的真实性、准确性和完整性做出保证，也不保证所包含的信息和建议不会发生任何变更。报告中的任何观"],
  [5, "点与建议仅代表报告当日对市场的判断。本报告仅供符合证监会、交易所适当性管理规定的期货交易者参考，且不构成对期货交易者的交易咨询建议。期货交易者根据本报告做出的任何投资决策及其所引致的任何后果，概与本公司及研究员无关。"],
  [28, "本公司的销售人员、交易人员以及其他专业人士可能会依据不同假设和标准、采用不同的分析方法而口头或书面发表与本报告意见及建议不一致的市场评论和/或交易观点。本公司没有将此意见及建议向报告所有接收者进行更新的义务。"],
  [28, "本报告版权归本公司所有，为非公开资料。未经本公司书面授权，任何人不得以任何形式传送、发布、复制本报告。本公司保留对任何侵权行为和有悖报告原意的引用行为进行追究的权利。未经授权的转载，本公司不承担任何转载责任。"]
];
legal.forEach((d, i) => txt(d[0], 1535 + i * 16.2, d[1], { anchor: "start", size: 9.75, color: "#a9a9a9" }));
hline(0, W, 1611, "#d0d0d0", 1);
</script>
</body>
</html>
